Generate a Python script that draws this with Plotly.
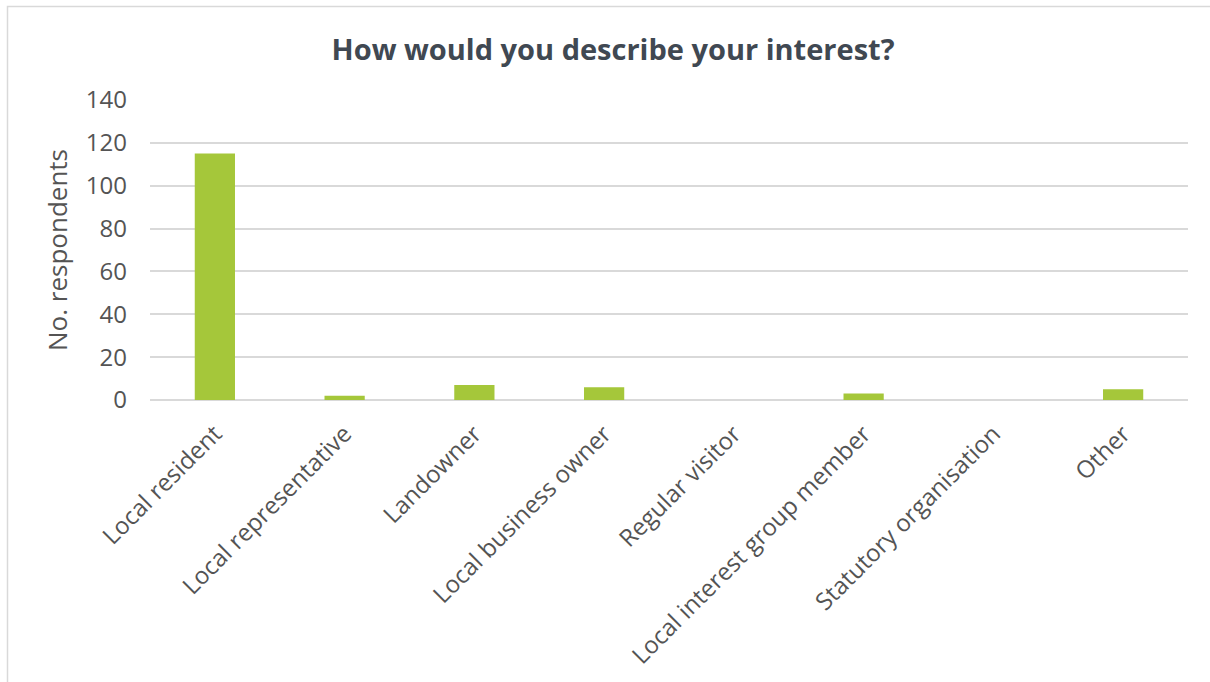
import plotly.graph_objects as go

categories = ["Local resident", "Local representative", "Landowner", "Local business owner",
              "Regular visitor", "Local interest group member", "Statutory organisation", "Other"]
values = [115, 2, 7, 6, 0, 3, 0, 5]
y_ticks = [0, 20, 40, 60, 80, 100, 120, 140]

W, H = 1210, 682
L, R, T, B = 150, 22, 100, 282
pw, ph = W - L - R, H - T - B

def px_x(px):
    return (px - L) / pw

def px_y(py):
    return (H - B - py) / ph

fig = go.Figure()
fig.add_trace(go.Bar(x=categories, y=values, marker=dict(color="#A5C73A", line=dict(width=0)),
                     width=0.31))

fig.update_layout(
    width=W, height=H,
    margin=dict(l=L, r=R, t=T, b=B, autoexpand=False),
    paper_bgcolor="white", plot_bgcolor="white",
    font=dict(family="Open Sans", color="#545454"),
    title=dict(text="<b>How would you describe your interest?</b>",
               font=dict(family="Open Sans", size=29, color="#404852"),
               x=613 / W, xanchor="center",
               y=1 - 50 / H, yref="container", yanchor="middle"),
    showlegend=False,
    bargap=0.69,
)
fig.layout.title.xref = "container"

fig.update_xaxes(tickangle=-45, tickfont=dict(size=24, color="#545454"),
                 showgrid=False, showline=False, ticks="", zeroline=False,
                 ticklabelstandoff=14)
fig.update_yaxes(range=[0, 140], tickvals=y_ticks, ticktext=[str(v) for v in y_ticks],
                 tickfont=dict(size=24, color="#545454"),
                 showgrid=True, gridcolor="#D9D9D9", gridwidth=1.5,
                 zeroline=True, zerolinecolor="#D9D9D9", zerolinewidth=1.5,
                 showline=False, ticks="", ticklabelstandoff=22,
                 title=dict(text="No. respondents", font=dict(size=26, color="#545454"), standoff=10))

fig.add_shape(type="rect", xref="paper", yref="paper",
              x0=px_x(7.5), x1=px_x(1215), y0=px_y(690), y1=px_y(6.5),
              line=dict(color="#D9D9D9", width=1.5), fillcolor="rgba(0,0,0,0)", layer="below")

fig.write_html("out.html")
